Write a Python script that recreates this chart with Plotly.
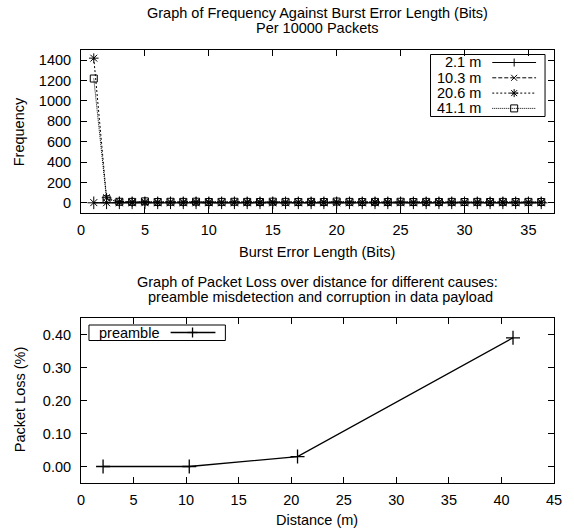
import plotly.graph_objects as go

# ---------------- data ----------------
burst_bits = list(range(1, 37))
series_names = ["2.1 m", "10.3 m", "20.6 m", "41.1 m"]
freq_2_1 = [0, 0, 0, 0, 0, 0, 0, 0, 0, 0, 0, 0, 0, 0, 0, 0, 0, 0,
            0, 0, 0, 0, 0, 0, 0, 0, 0, 0, 0, 0, 0, 0, 0, 0, 0, 0]
freq_10_3 = [2, 1, 0, 0, 1, 0, 0, 0, 0, 0, 0, 0, 0, 0, 0, 0, 0, 0,
             0, 0, 0, 0, 0, 0, 0, 0, 0, 0, 0, 0, 0, 0, 0, 0, 0, 0]
freq_20_6 = [1420, 50, 12, 8, 10, 7, 9, 8, 10, 8, 7, 9, 8, 7, 9, 8, 7, 8,
             7, 9, 8, 7, 8, 7, 9, 7, 8, 7, 8, 7, 8, 7, 8, 7, 8, 7]
freq_41_1 = [1220, 35, 10, 9, 14, 8, 10, 9, 11, 8, 9, 10, 9, 8, 11, 9, 8, 9,
             8, 12, 9, 8, 9, 8, 10, 8, 9, 8, 9, 8, 9, 8, 9, 8, 9, 8]

distances = [2.1, 10.3, 20.6, 41.1]
preamble_loss = [0.00, 0.00, 0.03, 0.39]

freq_ticks = [0, 200, 400, 600, 800, 1000, 1200, 1400]
loss_ticks = [0.0, 0.1, 0.2, 0.3, 0.4]

# ---------------- layout geometry (pixels) ----------------
W, H = 574, 529
L, R, T, B = 81, 556, 50, 483
TOP_BOTTOM, BOT_TOP = 213, 318
FONT = "Liberation Sans, Arial, Helvetica, sans-serif"
FS = 14.5


def fx(px):
    return (px - L) / (R - L)


def fy(py):
    return (B - py) / (B - T)


styles = [
    dict(dash="solid", symbol="cross-thin-open", size=9),
    dict(dash="4px,2px", symbol="x-thin-open", size=7),
    dict(dash="2px,2px", symbol="asterisk-open", size=8),
    dict(dash="1px,1px", symbol="square-open", size=7),
]
series_vals = [freq_2_1, freq_10_3, freq_20_6, freq_41_1]

fig = go.Figure()
for name, vals, st in zip(series_names, series_vals, styles):
    fig.add_trace(go.Scatter(
        x=burst_bits, y=vals, name=name, mode="lines+markers",
        line=dict(color="black", width=1, dash=st["dash"]),
        marker=dict(symbol=st["symbol"], size=st["size"], color="black",
                    line=dict(color="black", width=1)),
        xaxis="x", yaxis="y", showlegend=False, hoverinfo="skip",
    ))

fig.add_trace(go.Scatter(
    x=distances, y=preamble_loss, name="preamble", mode="lines+markers",
    line=dict(color="black", width=1.3),
    marker=dict(symbol="cross-thin-open", size=10, color="black",
                line=dict(color="black", width=1.3)),
    xaxis="x2", yaxis="y2", showlegend=False, hoverinfo="skip",
))

axis_common = dict(
    showline=True, linecolor="black", linewidth=1, mirror="ticks",
    ticks="inside", ticklen=6, tickcolor="black", tickwidth=1,
    showgrid=False, zeroline=False,
    tickfont=dict(family=FONT, size=FS, color="black"),
)

fig.update_layout(
    width=W, height=H,
    margin=dict(l=L, r=W - R, t=T, b=H - B),
    paper_bgcolor="white", plot_bgcolor="white",
    font=dict(family=FONT, size=FS, color="black"),
    xaxis=dict(domain=[0, 1], anchor="y", range=[0, 37], tick0=0, dtick=5,
               ticklabelstandoff=4, **axis_common),
    yaxis=dict(domain=[fy(TOP_BOTTOM), 1], anchor="x", range=[-100, 1500],
               tickvals=freq_ticks, ticklabelstandoff=6, **axis_common),
    xaxis2=dict(domain=[0, 1], anchor="y2", range=[0, 45], tick0=0, dtick=5,
                ticklabelstandoff=4, **axis_common),
    yaxis2=dict(domain=[0, fy(BOT_TOP)], anchor="x2", range=[-0.05, 0.45],
                tickvals=loss_ticks, tickformat=".2f", ticklabelstandoff=6,
                **axis_common),
    showlegend=False,
)

ann = []


def text(t, px, py, xanchor="center", angle=0):
    ann.append(dict(text=t, x=fx(px), y=fy(py), xref="paper", yref="paper",
                    xanchor=xanchor, yanchor="middle", showarrow=False,
                    textangle=angle, font=dict(family=FONT, size=FS, color="black")))


text("Graph of Frequency Against Burst Error Length (Bits)", 318, 13.5)
text("Per 10000 Packets", 318, 28.5)
text("Graph of Packet Loss over distance for different causes:", 318, 282.3)
text(" preamble misdetection and corruption in data payload", 320, 297.3)
text("Frequency", 19, 132, angle=-90)
text("Burst Error Length (Bits)", 318, 251.5)
text("Packet Loss (%)", 20, 399, angle=-90)
text("Distance (m)", 318, 520)

shapes = []


def line_shape(x0, y0, x1, y1, dash="solid", width=1):
    shapes.append(dict(type="line", xref="paper", yref="paper",
                       x0=fx(x0), y0=fy(y0), x1=fx(x1), y1=fy(y1),
                       line=dict(color="black", width=width, dash=dash)))


def rect_shape(x0, y0, x1, y1, width=1):
    shapes.append(dict(type="rect", xref="paper", yref="paper",
                       x0=fx(x0), y0=fy(y0), x1=fx(x1), y1=fy(y1),
                       line=dict(color="black", width=width), fillcolor="rgba(0,0,0,0)"))


def marker_shape(sym, cx, cy, h, width=1):
    if sym in ("cross-thin-open", "asterisk-open"):
        line_shape(cx - h, cy, cx + h, cy, width=width)
        line_shape(cx, cy - h, cx, cy + h, width=width)
    if sym in ("x-thin-open", "asterisk-open"):
        d = h * 0.75
        line_shape(cx - d, cy - d, cx + d, cy + d, width=width)
        line_shape(cx - d, cy + d, cx + d, cy - d, width=width)
    if sym == "square-open":
        rect_shape(cx - h, cy - h, cx + h, cy + h, width=width)


# top legend (gnuplot style: right-aligned label, then sample)
rect_shape(432, 54.5, 547, 116.5)
rows = [62.5, 77.8, 93.1, 108.4]
for name, st, ry in zip(series_names, styles, rows):
    text(name, 485, ry, xanchor="right")
    line_shape(494, ry, 538, ry, dash=st["dash"])
    marker_shape(st["symbol"], 516, ry, 4 if st["symbol"] != "square-open" else 3.5)

# bottom legend
rect_shape(89, 325, 226, 340.5)
text("preamble", 161, 332.5, xanchor="right")
line_shape(171, 332.5, 216, 332.5, width=1.3)
marker_shape("cross-thin-open", 193, 332.5, 5, width=1.3)

fig.update_layout(annotations=ann, shapes=shapes, hovermode=False)
fig.write_html(
    "out.html",
    config={"displayModeBar": False, "staticPlot": True},
    post_script="document.body.style.margin='0';document.body.style.overflow='hidden';",
)
